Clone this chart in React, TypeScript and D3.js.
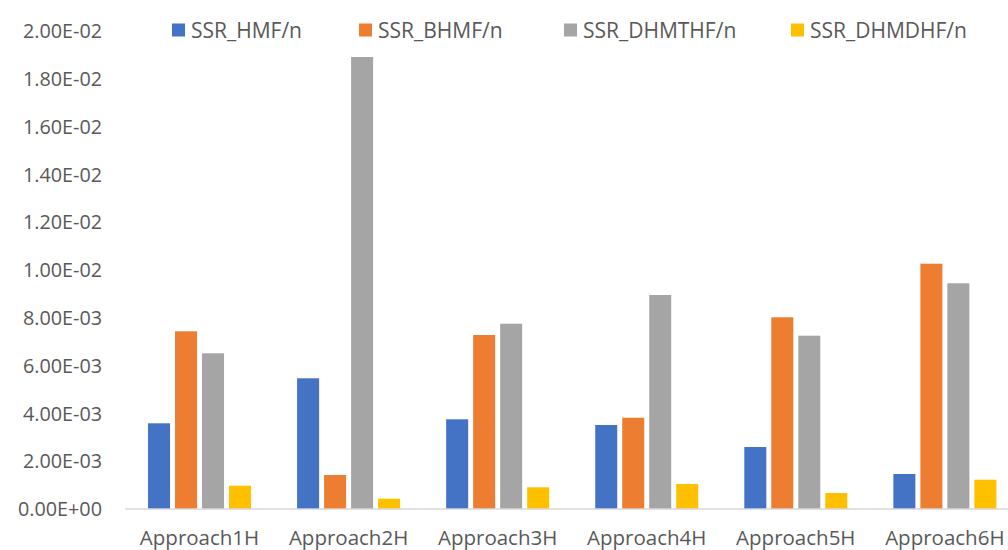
import React, { useEffect, useRef } from 'react';
import * as d3 from 'd3';

const categories = ['Approach1H', 'Approach2H', 'Approach3H', 'Approach4H', 'Approach5H', 'Approach6H'];
const seriesNames = ['SSR_HMF/n', 'SSR_BHMF/n', 'SSR_DHMTHF/n', 'SSR_DHMDHF/n'];
const seriesColors = ['#4472C4', '#ED7D31', '#A5A5A5', '#FFC000'];

const hmf = [0.003586, 0.005469, 0.003753, 0.003515, 0.002594, 0.001464];
const bhmf = [0.007435, 0.001423, 0.00728, 0.00382, 0.008021, 0.010264];
const dhmthf = [0.006515, 0.018912, 0.007753, 0.008954, 0.007251, 0.009444];
const dhmdhf = [0.000975, 0.000431, 0.000908, 0.001046, 0.000669, 0.001226];

const yTicks = [0, 0.002, 0.004, 0.006, 0.008, 0.01, 0.012, 0.014, 0.016, 0.018, 0.02];

const dimensions = {
    width: 1008,
    height: 550,
    margin: { left: 125, right: -11.4, top: 31, bottom: 41 },
};

const legendX = [172, 359, 564, 791];
const font = '"Open Sans", "Liberation Sans", sans-serif';
const textColor = '#595959';

const App = () => {
    const container = useRef<SVGSVGElement | null>(null);

    useEffect(() => {
        if (!container.current) return;
        const svg = d3.select(container.current);
        svg.selectAll('*').remove();

        const values = [hmf, bhmf, dhmthf, dhmdhf];
        const rows = categories.map((c, i) => ({
            category: c,
            vals: values.map((s, k) => ({ key: seriesNames[k], color: seriesColors[k], v: s[i] })),
        }));

        const x0 = d3.scaleBand()
            .domain(categories)
            .range([dimensions.margin.left, dimensions.width - dimensions.margin.right]);

        const groupW = 103;
        const x1 = d3.scaleBand()
            .domain(seriesNames)
            .range([(x0.bandwidth() - groupW) / 2, (x0.bandwidth() + groupW) / 2])
            .paddingInner(0.185);

        const y = d3.scaleLinear()
            .domain([0, 0.02])
            .range([dimensions.height - dimensions.margin.bottom, dimensions.margin.top]);

        // y tick labels (no gridlines)
        svg.append('g')
            .selectAll('text')
            .data(yTicks)
            .join('text')
            .attr('x', 102)
            .attr('y', d => y(d))
            .attr('dy', '0.36em')
            .attr('text-anchor', 'end')
            .attr('fill', textColor)
            .style('font-family', font)
            .style('font-size', '19.8px')
            .text(d => d === 0 ? '0.00E+00' : d.toExponential(2).replace(/e([+-])(\d)$/, 'E$10$2').replace('e', 'E'));

        // bars
        const groups = svg.append('g')
            .selectAll('g')
            .data(rows)
            .join('g')
            .attr('transform', d => `translate(${x0(d.category)},0)`);

        groups.selectAll('rect')
            .data(d => d.vals)
            .join('rect')
            .attr('x', d => x1(d.key) as number)
            .attr('width', x1.bandwidth())
            .attr('y', d => y(d.v))
            .attr('height', d => y(0) - y(d.v))
            .attr('fill', d => d.color);

        // baseline
        svg.append('line')
            .attr('x1', dimensions.margin.left)
            .attr('x2', dimensions.width)
            .attr('y1', y(0))
            .attr('y2', y(0))
            .attr('stroke', '#D9D9D9')
            .attr('stroke-width', 1.3);

        // category labels
        svg.append('g')
            .selectAll('text')
            .data(categories)
            .join('text')
            .attr('x', d => (x0(d) as number) + x0.bandwidth() / 2)
            .attr('y', 545)
            .attr('text-anchor', 'middle')
            .attr('fill', textColor)
            .style('font-family', font)
            .style('font-size', '20.5px')
            .text(d => d);

        // legend
        const legend = svg.append('g')
            .selectAll('g')
            .data(seriesNames)
            .join('g')
            .attr('transform', (d, i) => `translate(${legendX[i]},30)`);

        legend.append('rect')
            .attr('x', 0)
            .attr('y', -6.5)
            .attr('width', 13)
            .attr('height', 13)
            .attr('fill', (d, i) => seriesColors[i]);

        legend.append('text')
            .attr('x', 19)
            .attr('y', 0)
            .attr('dy', '0.36em')
            .attr('fill', textColor)
            .style('font-family', font)
            .style('font-size', '21px')
            .text(d => d);
    }, []);

    return (
        <svg
            ref={container}
            width={dimensions.width}
            height={dimensions.height}
            style={{ position: 'absolute', left: 0, top: 0, background: '#fff' }}
        />
    );
};

export default App;
